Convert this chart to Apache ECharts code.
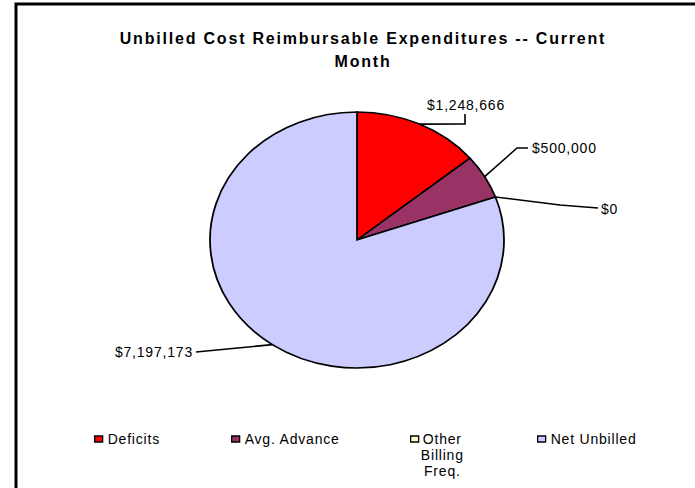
<!DOCTYPE html>
<html>
<head>
<meta charset="utf-8">
<script src="https://cdn.jsdelivr.net/npm/echarts@6/dist/echarts.min.js"></script>
<style>
html,body{margin:0;padding:0;background:#fff;}
#chart{width:695px;height:488px;}
#chart svg text{letter-spacing:0.8px;}
#chart svg text[style*="bold"]{letter-spacing:1.8px;}
</style>
</head>
<body>
<div id="chart"></div>
<script>
const titleText = 'Unbilled Cost Reimbursable Expenditures -- Current\nMonth';
const categories = ['Deficits', 'Avg. Advance', 'Other Billing Freq.', 'Net Unbilled'];
const values = [1248666, 500000, 0, 7197173];
const valueLabels = ['$1,248,666', '$500,000', '$0', '$7,197,173'];
const colors = ['#FF0000', '#993366', '#FFFFCC', '#CCCCFF'];

const FONT = '"Liberation Sans", Arial, sans-serif';
const CX = 357, CY = 240, RX = 147, RY = 128;

// label layout: elbow points of the leader line and the label anchor
const leaderPts = [
  [[465, 124], [465, 114]],
  [[517, 148], [528, 148]],
  [[560, 205], [598, 208]],
  [[196, 352]]
];
const labelAnchor = [
  {x: 466, y: 105, align: 'center'},
  {x: 532, y: 148, align: 'left'},
  {x: 601, y: 209, align: 'left'},
  {x: 193, y: 352, align: 'right'}
];
const legendPos = [
  {left: 94, top: 432},
  {left: 231, top: 432},
  {left: 410, top: 399},
  {left: 537, top: 432}
];

const total = values.reduce((s, v) => s + v, 0);

function makeRender(i) {
  return function (params, api) {
    let cum = 0;
    for (let j = 0; j < i; j++) cum += values[j];
    const v = api.value(0);
    const a0 = -Math.PI / 2 + 2 * Math.PI * cum / total;
    const a1 = a0 + 2 * Math.PI * v / total;
    const mid = (a0 + a1) / 2;
    const anchor = [CX + RX * Math.cos(mid), CY + RY * Math.sin(mid)];
    const pts = [anchor].concat(leaderPts[i]);
    return {
      type: 'group',
      children: [
        {
          type: 'sector',
          x: CX, y: CY,
          scaleX: 1, scaleY: RY / RX,
          shape: {cx: 0, cy: 0, r0: 0, r: RX, startAngle: a0, endAngle: a1, clockwise: true},
          style: {fill: colors[i], stroke: '#000', lineWidth: 1.8, strokeNoScale: true},
          z2: 1
        },
        {
          type: 'polyline',
          shape: {points: pts},
          style: {fill: null, stroke: '#000', lineWidth: 1.6},
          z2: 10
        },
        {
          type: 'text',
          x: labelAnchor[i].x, y: labelAnchor[i].y,
          style: {
            text: valueLabels[i],
            fontFamily: FONT, fontSize: 14, fill: '#000',
            align: labelAnchor[i].align, verticalAlign: 'middle'
          },
          z2: 10
        }
      ]
    };
  };
}

const series = categories.map((c, i) => ({
  type: 'custom',
  name: c,
  coordinateSystem: 'none',
  itemStyle: {color: colors[i]},
  data: [[values[i]]],
  renderItem: makeRender(i),
  silent: true
}));

const legends = categories.map((c, i) => ({
  data: [c],
  left: legendPos[i].left,
  top: legendPos[i].top,
  orient: 'horizontal',
  icon: 'rect',
  itemWidth: 8,
  itemHeight: 6,
  itemGap: 0,
  padding: 0,
  selectedMode: false,
  itemStyle: {color: colors[i], borderColor: '#000', borderWidth: 1.3},
  formatter: i === 2 ? '{c|Other}\n{c|Billing}\n{c|Freq.}' : c,
  textStyle: i === 2 ? {
    fontFamily: FONT, fontSize: 14, color: '#000', lineHeight: 16,
    padding: [32, 0, 0, 0],
    rich: {c: {align: 'center', fontFamily: FONT, fontSize: 14, color: '#000', lineHeight: 16}}
  } : {fontFamily: FONT, fontSize: 14, color: '#000'}
}));

const chart = echarts.init(document.getElementById('chart'), null, {renderer: 'svg'});
chart.setOption({
  animation: false,
  backgroundColor: '#fff',
  title: {
    text: titleText,
    left: 358,
    top: 22,
    textAlign: 'center',
    textStyle: {fontFamily: FONT, fontSize: 16, fontWeight: 'bold', color: '#000', lineHeight: 23}
  },
  legend: legends,
  graphic: [{
    type: 'rect',
    shape: {x: 16, y: 4, width: 720, height: 520},
    style: {fill: 'none', stroke: '#000', lineWidth: 3},
    silent: true,
    z: 100
  }],
  series: series
});
</script>
</body>
</html>
